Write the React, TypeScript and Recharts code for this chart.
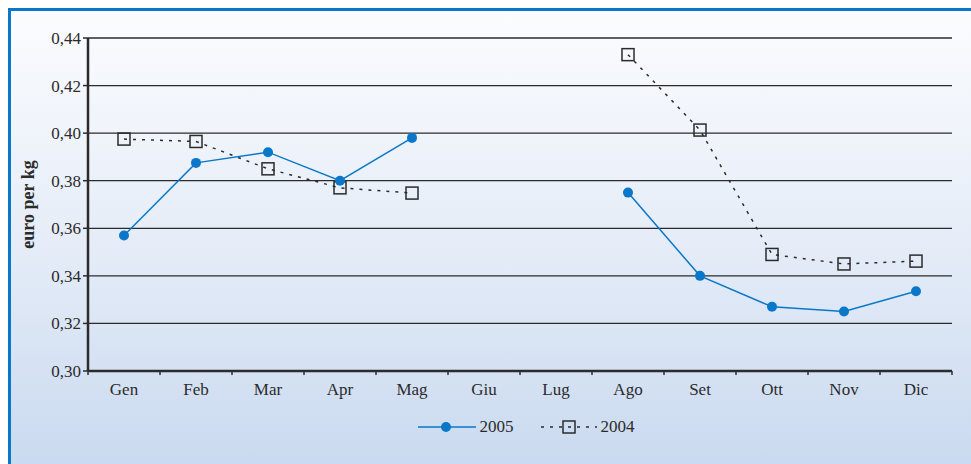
import { ComposedChart, Line, XAxis, YAxis, CartesianGrid } from 'recharts';

const months = ['Gen', 'Feb', 'Mar', 'Apr', 'Mag', 'Giu', 'Lug', 'Ago', 'Set', 'Ott', 'Nov', 'Dic'];
const values2005 = [0.357, 0.3875, 0.392, 0.38, 0.398, null, null, 0.375, 0.34, 0.327, 0.325, 0.3335];
const values2004 = [0.3975, 0.3965, 0.385, 0.377, 0.3748, null, null, 0.433, 0.4013, 0.349, 0.345, 0.3462];
const yTicks = [0.3, 0.32, 0.34, 0.36, 0.38, 0.4, 0.42, 0.44];
const seriesNames = ['2005', '2004'];

const BLUE = '#0a78c9';
const INK = '#2b2b2b';
const FONT = '"Liberation Serif", "DejaVu Serif", serif';
const HALF_BAND = 36;

const data = months.map((m, i) => ({ month: m, s2005: values2005[i], s2004: values2004[i] }));

const fmtTick = (v: number) => v.toFixed(2).replace('.', ',');

// month label + small tick marks on the category boundaries
function MonthTick(props: any) {
  const { x, y, payload, index } = props;
  const axisY = y - 8;
  return (
    <g>
      <line x1={x - HALF_BAND} y1={axisY} x2={x - HALF_BAND} y2={axisY + 4} stroke={INK} strokeWidth={1.5} />
      {index === months.length - 1 && (
        <line x1={x + HALF_BAND} y1={axisY} x2={x + HALF_BAND} y2={axisY + 4} stroke={INK} strokeWidth={1.5} />
      )}
      <text x={x} y={axisY + 24} textAnchor="middle" fill={INK} fontSize={17} fontFamily={FONT}>
        {payload.value}
      </text>
    </g>
  );
}

function SquareDot(props: any) {
  const { cx, cy, index } = props;
  if (cx == null || cy == null || props.value == null) return <g key={`sq-${index}`} />;
  return (
    <rect
      key={`sq-${index}`}
      x={cx - 6}
      y={cy - 6}
      width={12}
      height={12}
      fill="none"
      stroke={INK}
      strokeWidth={1.5}
    />
  );
}

function LegendBox() {
  return (
    <div
      style={{
        position: 'absolute',
        top: 417,
        left: 0,
        width: 971,
        display: 'flex',
        justifyContent: 'center',
        alignItems: 'center',
        fontFamily: FONT,
        fontSize: 17,
        color: INK,
        gap: 26,
        paddingLeft: 80,
        boxSizing: 'border-box',
      }}
    >
      <div style={{ display: 'flex', alignItems: 'center' }}>
        <svg width={60} height={16}>
          <line x1={1} y1={8} x2={59} y2={8} stroke={BLUE} strokeWidth={1.5} />
          <circle cx={29} cy={8} r={5} fill={BLUE} />
        </svg>
        <span style={{ marginLeft: 3 }}>{seriesNames[0]}</span>
      </div>
      <div style={{ display: 'flex', alignItems: 'center' }}>
        <svg width={58} height={16}>
          <line x1={1} y1={8} x2={57} y2={8} stroke={INK} strokeWidth={1.5} strokeDasharray="3 6" />
          <rect x={23} y={2} width={12} height={12} fill="none" stroke={INK} strokeWidth={1.5} />
        </svg>
        <span style={{ marginLeft: 3 }}>{seriesNames[1]}</span>
      </div>
    </div>
  );
}

export default function App() {
  return (
    <div style={{ position: 'fixed', left: 0, top: 0, width: 971, height: 464, background: '#ffffff', overflow: 'hidden' }}>
      <div
        style={{
          position: 'absolute',
          left: 8,
          top: 8,
          width: 1000,
          height: 500,
          borderLeft: `3px solid ${BLUE}`,
          borderTop: `3px solid ${BLUE}`,
          background: 'linear-gradient(to bottom, #fbfcfe 0%, #e6edf8 45%, #c4d6ee 100%)',
        }}
      />
      <div style={{ position: 'absolute', left: 0, top: 0 }}>
        <ComposedChart width={971} height={464} data={data} margin={{ top: 38, right: 19, left: 0, bottom: 0 }}>
          <CartesianGrid vertical={false} stroke={INK} strokeWidth={1.3} yAxisId="l" />
          <XAxis
            dataKey="month"
            scale="band"
            height={93}
            tickLine={false}
            axisLine={{ stroke: INK, strokeWidth: 2.5 }}
            tick={<MonthTick />}
            interval={0}
          />
          <YAxis
            yAxisId="l"
            width={88}
            domain={[0.3, 0.44]}
            ticks={yTicks}
            allowDataOverflow
            tickFormatter={fmtTick}
            axisLine={{ stroke: INK, strokeWidth: 2.5 }}
            tickLine={{ stroke: INK, strokeWidth: 1.5 }}
            tickSize={5}
            tick={{ fill: INK, fontSize: 17, fontFamily: FONT }}
            label={{
              value: 'euro per kg',
              angle: -90,
              position: 'insideLeft',
              offset: 28,
              style: { fill: INK, fontSize: 18, fontWeight: 'bold', fontFamily: FONT, textAnchor: 'middle' },
            }}
          />
          <YAxis
            yAxisId="r"
            orientation="right"
            width={0}
            domain={[0.3, 0.44]}
            ticks={yTicks}
            allowDataOverflow
            tick={false}
            tickLine={false}
            axisLine={{ stroke: INK, strokeWidth: 1.5 }}
          />
          <Line
            yAxisId="r"
            dataKey="s2004"
            name={seriesNames[1]}
            stroke={INK}
            strokeWidth={1.5}
            strokeDasharray="3 6"
            dot={<SquareDot />}
            activeDot={false}
            connectNulls={false}
            isAnimationActive={false}
          />
          <Line
            yAxisId="l"
            dataKey="s2005"
            name={seriesNames[0]}
            stroke={BLUE}
            strokeWidth={1.5}
            dot={{ r: 5, fill: BLUE, stroke: BLUE, strokeWidth: 0 }}
            activeDot={false}
            connectNulls={false}
            isAnimationActive={false}
          />
        </ComposedChart>
      </div>
      <LegendBox />
    </div>
  );
}
